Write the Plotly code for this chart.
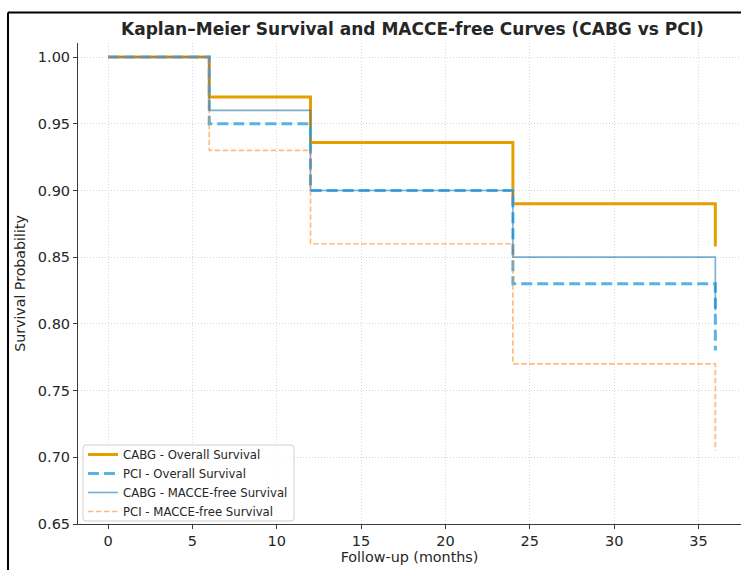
import plotly.graph_objects as go

months = [0, 6, 12, 24, 36]
cabg_overall = [1.00, 0.97, 0.936, 0.89, 0.858]
pci_overall = [1.00, 0.95, 0.90, 0.83, 0.78]
cabg_macce = [1.00, 0.96, 0.90, 0.85, 0.81]
pci_macce = [1.00, 0.93, 0.86, 0.77, 0.705]

y_ticks = [0.65, 0.70, 0.75, 0.80, 0.85, 0.90, 0.95, 1.00]
x_ticks = [0, 5, 10, 15, 20, 25, 30, 35]

FONT = "DejaVu Sans"
TXT = "#262626"

fig = go.Figure()
fig.add_trace(go.Scatter(x=months, y=cabg_overall, mode="lines", line_shape="hv",
                         name="CABG - Overall Survival",
                         line=dict(color="#E69F00", width=3)))
fig.add_trace(go.Scatter(x=months, y=pci_overall, mode="lines", line_shape="hv",
                         name="PCI - Overall Survival",
                         line=dict(color="#56B4E9", width=3, dash="11px,5px")))
fig.add_trace(go.Scatter(x=months, y=cabg_macce, mode="lines", line_shape="hv",
                         name="CABG - MACCE-free Survival",
                         line=dict(color="rgba(31,119,180,0.6)", width=1.6)))
fig.add_trace(go.Scatter(x=months, y=pci_macce, mode="lines", line_shape="hv",
                         name="PCI - MACCE-free Survival",
                         line=dict(color="rgba(255,127,14,0.55)", width=1.6, dash="5.5px,2.5px")))

L, R, T, B = 78, 0, 43, 46
W, H = 741, 570
pw = W - L - R
ph = H - T - B


def px(xp):
    return (xp - L) / pw


def py(yp):
    return (H - B - yp) / ph


def rounded_rect(x0, y0, x1, y1, r=3):
    a, b, c, d = px(x0), px(x1), py(y0), py(y1)
    rx, ry = r / pw, r / ph
    return (f"M {a+rx},{c} L {b-rx},{c} Q {b},{c} {b},{c-ry} "
            f"L {b},{d+ry} Q {b},{d} {b-rx},{d} L {a+rx},{d} Q {a},{d} {a},{d+ry} "
            f"L {a},{c-ry} Q {a},{c} {a+rx},{c} Z")


fig.update_layout(
    width=W, height=H,
    margin=dict(l=L, r=R, t=T, b=B, pad=0, autoexpand=False),
    plot_bgcolor="white", paper_bgcolor="white",
    font=dict(family=FONT, color=TXT, size=13),
    showlegend=True,
    legend=dict(x=px(83), y=py(440), xanchor="left", yanchor="top",
                bgcolor="rgba(0,0,0,0)", borderwidth=0,
                font=dict(family=FONT, size=11.7, color=TXT), tracegroupgap=0,
                itemwidth=30),
    annotations=[dict(text="<b>Kaplan–Meier Survival and MACCE-free Curves (CABG vs PCI)</b>",
                      x=px(412), y=py(29), xref="paper", yref="paper",
                      xanchor="center", yanchor="middle", showarrow=False,
                      font=dict(family=FONT, size=17, color=TXT))],
    shapes=[
        dict(type="path", xref="paper", yref="paper", path=rounded_rect(83, 445, 294, 521),
             fillcolor="rgba(255,255,255,0.85)", line=dict(color="#d0d0d0", width=1),
             layer="above"),
        dict(type="line", xref="paper", yref="paper", x0=px(8), x1=1.2,
             y0=py(12.5), y1=py(12.5), line=dict(color="black", width=2)),
        dict(type="line", xref="paper", yref="paper", x0=px(8), x1=px(8),
             y0=py(12.5), y1=-0.2, line=dict(color="black", width=2)),
    ],
)

fig.update_xaxes(range=[-1.78, -1.78 + pw / 16.87], tickvals=x_ticks, automargin=False,
                 showgrid=True, gridcolor="#d8d8d8", griddash="1px,2px", gridwidth=0.8,
                 showline=True, linecolor="#3a3a3a", linewidth=1,
                 ticks="outside", ticklen=4, tickcolor="#3a3a3a",
                 tickfont=dict(family=FONT, size=14.5, color=TXT),
                 title=dict(text="Follow-up (months)", standoff=3,
                            font=dict(family=FONT, size=14.3, color=TXT)),
                 zeroline=False)
fig.update_yaxes(range=[0.65, 1.0105], tickvals=y_ticks, tickformat=".2f", automargin=False,
                 showgrid=True, gridcolor="#d8d8d8", griddash="1px,2px", gridwidth=0.8,
                 showline=True, linecolor="#3a3a3a", linewidth=1,
                 ticks="outside", ticklen=4, tickcolor="#3a3a3a",
                 tickfont=dict(family=FONT, size=14.5, color=TXT),
                 title=dict(text="Survival Probability", standoff=8,
                            font=dict(family=FONT, size=14.2, color=TXT)),
                 zeroline=False)

fig.write_html("out.html", config={"displayModeBar": False},
               post_script="document.body.style.margin='0';document.body.style.overflow='hidden';")
